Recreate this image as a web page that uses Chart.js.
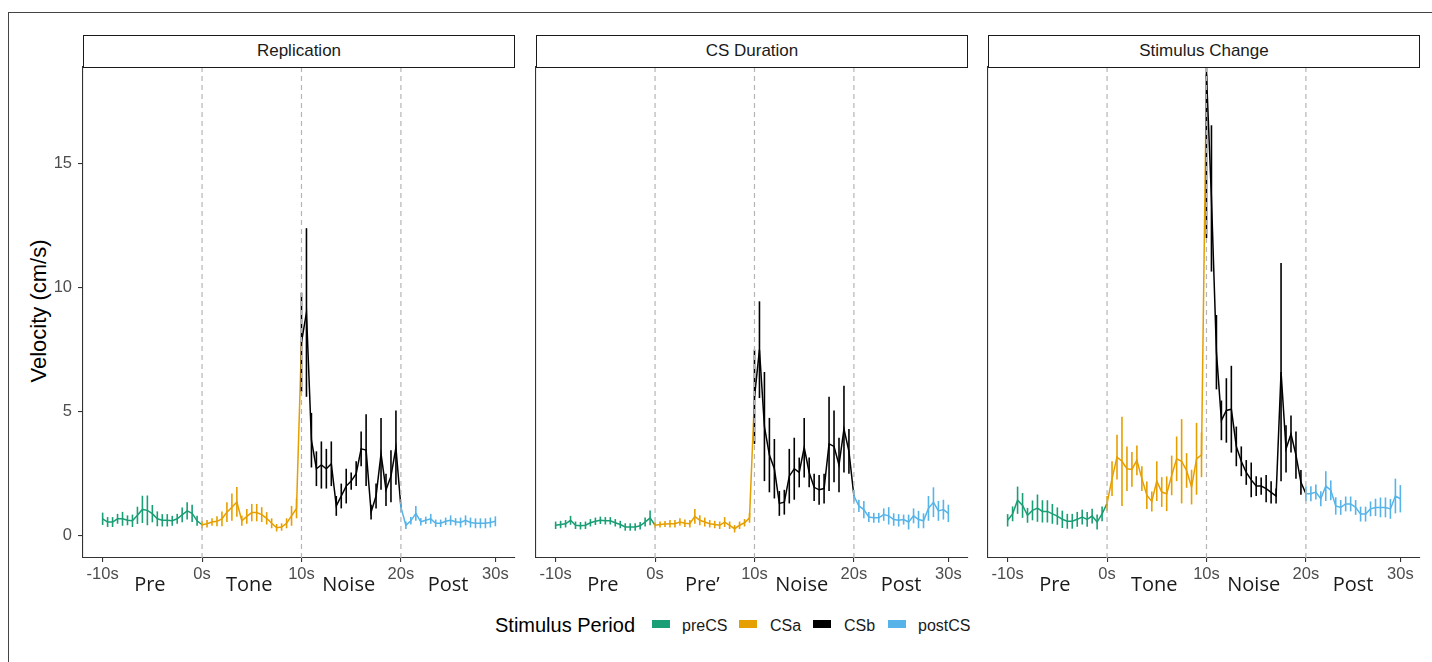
<!DOCTYPE html>
<html><head><meta charset="utf-8">
<script src="https://cdn.jsdelivr.net/npm/chart.js@4/dist/chart.umd.min.js"></script>
<style>
html,body{margin:0;padding:0;background:#fff;}
body{width:1432px;height:662px;position:relative;overflow:hidden;font-family:"Liberation Sans",Arial,sans-serif;}
#frame{position:absolute;left:8px;top:12px;width:1440px;height:670px;border:1px solid #444;box-sizing:border-box;}
.strip{position:absolute;top:35px;height:33px;border:1.4px solid #1a1a1a;box-sizing:border-box;background:#fff;display:flex;align-items:center;justify-content:center;font-size:17px;color:#1a1a1a;padding-bottom:2px;}
canvas{position:absolute;}
#ytitle{position:absolute;left:39px;top:311px;transform:translate(-50%,-50%) rotate(-90deg);font-size:22px;white-space:nowrap;color:#000;}
#legend{position:absolute;left:0;top:0;width:1432px;height:662px;pointer-events:none;}
#legend span{position:absolute;white-space:nowrap;}
.lt{font-size:20px;color:#000;top:614px;}
.lk{top:620px;width:18px;height:8px;}
.ll{font-size:16px;color:#1a1a1a;top:617px;}
</style>
</head><body>
<div id="frame"></div>
<div id="ytitle">Velocity (cm/s)</div>
<div id="legend"></div>
<script>
// ---- data ----
const times = [-10,-9.5,-9,-8.5,-8,-7.5,-7,-6.5,-6,-5.5,-5,-4.5,-4,-3.5,-3,-2.5,-2,-1.5,-1,-0.5,
  0,0.5,1,1.5,2,2.5,3,3.5,4,4.5,5,5.5,6,6.5,7,7.5,8,8.5,9,9.5,
  10,10.5,11,11.5,12,12.5,13,13.5,14,14.5,15,15.5,16,16.5,17,17.5,18,18.5,19,19.5,
  20,20.5,21,21.5,22,22.5,23,23.5,24,24.5,25,25.5,26,26.5,27,27.5,28,28.5,29,29.5];
const periodNames = ['preCS','CSa','CSb','postCS'];
const periodStarts = [-10, 0, 10, 20];
const periodColors = ['#1A9E75','#E69F00','#000000','#56B4E9'];
const panelTitles = ['Replication','CS Duration','Stimulus Change'];
const xTickValues = [-10, 0, 10, 20, 29.5];
const xTickLabels = ['-10s','0s','10s','20s','30s'];
const yTickValues = [0, 5, 10, 15];
const stageLabelSets = [['Pre','Tone','Noise','Post'],['Pre','Pre\u2019','Noise','Post'],['Pre','Tone','Noise','Post']];
const stageCentres = [-5.25, 4.75, 14.75, 24.75];
const vlineTimes = [0, 10, 20];

const repMean = [0.68,0.55,0.55,0.68,0.68,0.62,0.6,0.82,1.06,1.02,0.89,0.68,0.62,0.62,0.6,0.68,0.84,1.0,0.9,0.6,
  0.44,0.48,0.55,0.58,0.68,0.95,1.15,1.36,0.6,0.78,0.93,0.93,0.85,0.7,0.5,0.32,0.35,0.5,0.8,1.1,
  7.8,9.0,3.85,2.7,2.85,2.7,2.9,1.2,1.6,2.0,2.2,2.5,3.5,3.45,0.95,1.6,3.3,1.85,2.4,3.55,
  1.15,0.42,0.6,0.9,0.56,0.62,0.68,0.5,0.5,0.58,0.62,0.56,0.53,0.62,0.53,0.5,0.5,0.5,0.53,0.58];
const repErr = [0.25,0.2,0.2,0.2,0.28,0.2,0.25,0.35,0.55,0.6,0.35,0.3,0.25,0.25,0.2,0.2,0.3,0.35,0.35,0.2,
  0.15,0.15,0.15,0.2,0.3,0.4,0.55,0.6,0.2,0.3,0.35,0.35,0.3,0.25,0.2,0.15,0.15,0.2,0.4,0.4,
  2.0,3.4,1.1,0.7,0.95,0.8,0.9,0.4,0.5,0.7,0.35,0.5,0.7,1.45,0.3,0.5,1.45,0.65,1.05,1.5,
  0.2,0.15,0.15,0.3,0.15,0.15,0.2,0.15,0.15,0.15,0.2,0.15,0.2,0.2,0.2,0.2,0.2,0.2,0.2,0.2];

const durMean = [0.42,0.45,0.48,0.62,0.42,0.4,0.42,0.52,0.58,0.62,0.6,0.6,0.52,0.45,0.35,0.35,0.35,0.4,0.55,0.72,
  0.42,0.45,0.47,0.48,0.48,0.55,0.5,0.48,0.78,0.62,0.55,0.48,0.45,0.42,0.55,0.42,0.28,0.42,0.52,0.72,
  5.6,7.5,4.4,3.25,2.7,1.3,1.35,2.4,2.7,2.55,3.55,2.55,1.95,1.85,1.9,3.7,3.6,2.85,4.3,3.4,
  1.6,1.2,1.05,0.75,0.72,0.72,0.85,0.8,0.65,0.62,0.65,0.55,0.8,0.65,0.6,1.1,1.35,1.0,1.05,0.9];
const durErr = [0.15,0.15,0.15,0.18,0.15,0.15,0.15,0.15,0.15,0.15,0.15,0.15,0.15,0.15,0.15,0.15,0.15,0.15,0.18,0.3,
  0.12,0.12,0.12,0.15,0.15,0.15,0.15,0.15,0.3,0.2,0.18,0.15,0.15,0.15,0.2,0.15,0.15,0.15,0.15,0.2,
  1.9,1.95,2.2,1.5,1.2,0.5,0.5,1.1,1.25,0.6,1.2,0.6,0.55,0.6,0.6,1.9,1.45,1.1,1.75,0.9,
  0.25,0.25,0.35,0.2,0.2,0.2,0.25,0.35,0.25,0.25,0.2,0.3,0.3,0.35,0.3,0.5,0.6,0.4,0.4,0.35];

const chgMean = [0.62,0.88,1.43,1.22,0.82,1.02,1.11,0.98,0.98,0.88,0.79,0.66,0.58,0.58,0.66,0.75,0.66,0.79,0.55,0.88,
  1.3,2.3,3.17,3.0,2.7,2.67,3.04,2.3,1.63,1.38,2.2,1.76,1.69,2.43,3.1,3.0,2.63,1.96,3.1,3.26,
  18.6,13.6,7.4,4.65,5.05,5.1,3.6,3.0,2.55,2.25,2.0,2.0,1.9,1.75,1.6,6.6,3.5,4.1,3.25,2.15,
  1.69,1.69,1.76,1.49,2.0,1.83,1.2,1.14,1.28,1.28,1.14,0.87,0.87,1.08,1.14,1.14,1.14,1.08,1.6,1.49];
const chgErr = [0.25,0.3,0.55,0.5,0.3,0.4,0.55,0.45,0.45,0.4,0.35,0.35,0.3,0.3,0.3,0.3,0.3,0.3,0.3,0.3,
  0.3,0.7,0.9,1.8,0.9,0.7,0.6,0.5,0.55,0.4,0.8,0.6,0.7,0.8,0.9,1.7,0.7,0.7,1.45,0.9,
  6.6,2.95,1.5,0.8,1.3,1.75,0.8,0.6,0.5,0.7,0.4,0.35,0.55,0.45,0.3,4.4,0.95,0.75,0.95,0.5,
  0.3,0.3,0.3,0.3,0.6,0.4,0.35,0.3,0.3,0.3,0.3,0.3,0.3,0.3,0.35,0.4,0.4,0.4,0.7,0.55];

// ---- layout ----
const panelLeft = [83, 536, 988];
const panelWidth = 432;
const plotTop = 67, plotBottom = 558;
const yAxisW = 70, xAxisH = 45, canvasTop = 60, padRight = 12;

function periodIndex(t){ let k = 0; for (let j=0;j<periodStarts.length;j++) if (t >= periodStarts[j]) k = j; return k; }

const panels = [
  {mean: repMean, err: repErr},
  {mean: durMean, err: durErr},
  {mean: chgMean, err: chgErr}
];

const decorPlugin = {
  id: 'decor',
  afterDatasetsDraw(chart, args, opts){
    const ctx = chart.ctx, a = chart.chartArea, xs = chart.scales.x, ys = chart.scales.y;
    const p = panels[opts.panel];
    ctx.save();
    ctx.beginPath(); ctx.rect(a.left, a.top, a.right - a.left, a.bottom - a.top); ctx.clip();
    ctx.lineWidth = 1.6; ctx.lineCap = 'butt';
    for (let i = 0; i < times.length; i++){
      const x = xs.getPixelForValue(times[i]);
      ctx.strokeStyle = periodColors[periodIndex(times[i])];
      ctx.beginPath();
      ctx.moveTo(x, ys.getPixelForValue(p.mean[i] - p.err[i]));
      ctx.lineTo(x, ys.getPixelForValue(p.mean[i] + p.err[i]));
      ctx.stroke();
    }
    ctx.strokeStyle = '#b5b5b5'; ctx.lineWidth = 1.2; ctx.setLineDash([5,4]);
    vlineTimes.forEach(t => {
      const x = xs.getPixelForValue(t);
      ctx.beginPath(); ctx.moveTo(x, a.top); ctx.lineTo(x, a.bottom); ctx.stroke();
    });
    ctx.restore();
  },
  afterDraw(chart, args, opts){
    const ctx = chart.ctx, a = chart.chartArea, xs = chart.scales.x;
    ctx.save();
    ctx.font = '20px "Open Sans"';
    ctx.fillStyle = '#1a1a1a'; ctx.textAlign = 'center'; ctx.textBaseline = 'middle';
    stageLabelSets[opts.panel].forEach((s, k) => {
      ctx.fillText(s, xs.getPixelForValue(stageCentres[k]), a.bottom + 27);
    });
    ctx.restore();
  }
};

panels.forEach((p, pi) => {
  const cv = document.createElement('canvas');
  const W = yAxisW + panelWidth + padRight;
  const H = plotBottom - canvasTop + xAxisH;
  cv.width = W; cv.height = H;
  cv.style.width = W + 'px'; cv.style.height = H + 'px';
  cv.style.left = (panelLeft[pi] - yAxisW) + 'px';
  cv.style.top = canvasTop + 'px';
  document.body.appendChild(cv);

  const strip = document.createElement('div');
  strip.className = 'strip';
  strip.style.left = panelLeft[pi] + 'px';
  strip.style.width = panelWidth + 'px';
  strip.textContent = panelTitles[pi];
  document.body.appendChild(strip);

  const first = pi === 0;
  new Chart(cv, {
    type: 'line',
    data: { datasets: [{
      data: times.map((t, i) => ({x: t, y: p.mean[i]})),
      borderColor: '#000', borderWidth: 1.5, pointRadius: 0, tension: 0,
      segment: { borderColor: c => periodColors[periodIndex(times[c.p0DataIndex])] }
    }]},
    options: {
      responsive: false, animation: false, devicePixelRatio: window.devicePixelRatio || 1,
      layout: { padding: { top: plotTop - canvasTop, right: padRight, bottom: 0, left: 0 } },
      plugins: { legend: {display:false}, tooltip: {enabled:false}, decor: {panel: pi} },
      scales: {
        x: {
          type: 'linear', min: -11.975, max: 31.475,
          afterBuildTicks: s => { s.ticks = xTickValues.map(v => ({value: v})); },
          afterFit: s => { s.height = xAxisH; s.paddingLeft = 0; s.paddingRight = 0; },
          ticks: { autoSkip: false, maxRotation: 0, padding: 3, color: '#4d4d4d',
                   font: {size: 16.5, family: '"Liberation Sans", Arial'},
                   callback: (v, i) => xTickLabels[i] },
          grid: { drawOnChartArea: false, drawTicks: true, tickLength: 4, color: '#333', lineWidth: 1.1 },
          border: { display: true, color: '#333', width: 1.1 }
        },
        y: {
          type: 'linear', min: -0.9, max: 18.9,
          afterBuildTicks: s => { s.ticks = yTickValues.map(v => ({value: v})); },
          afterFit: s => { s.width = yAxisW; s.paddingTop = 0; s.paddingBottom = 0; },
          ticks: { display: first, padding: 6, color: '#4d4d4d',
                   font: {size: 16.5, family: '"Liberation Sans", Arial'} },
          grid: { drawOnChartArea: false, drawTicks: first, tickLength: 5, color: '#333', lineWidth: 1.1 },
          border: { display: true, color: '#333', width: 1.1 }
        }
      }
    },
    plugins: [decorPlugin]
  });
});

// ---- legend ----
const legend = document.getElementById('legend');
function addSpan(cls, left, text, bg){
  const s = document.createElement('span'); s.className = cls; s.style.left = left + 'px';
  if (text) s.textContent = text; if (bg) s.style.background = bg; legend.appendChild(s);
}
addSpan('lt', 495, 'Stimulus Period');
const keyLeft = [652, 739, 813, 888];
const textLeft = [682, 770, 844, 918];
periodNames.forEach((n, k) => { addSpan('lk', keyLeft[k], '', periodColors[k]); addSpan('ll', textLeft[k], n); });
</script>
</body></html>
